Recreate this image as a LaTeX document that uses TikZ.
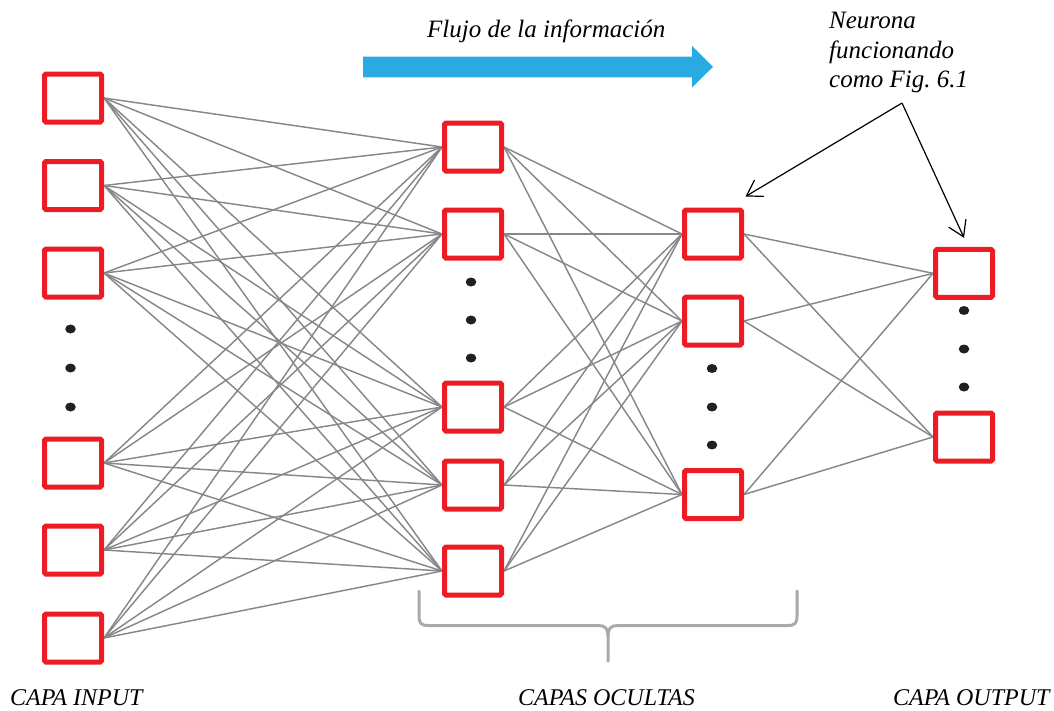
\documentclass[tikz,border=0pt]{standalone}
\usepackage{fontspec}
\setmainfont{Liberation Serif}
\usetikzlibrary{arrows.meta,shapes.geometric}

\pgfdeclarelayer{links}
\pgfsetlayers{links,main}

\definecolor{neuronred}{HTML}{ED1C24}
\definecolor{linkgray}{HTML}{87878A}
\definecolor{flowblue}{HTML}{29ABE2}
\definecolor{bracegray}{HTML}{A7A9AC}
\definecolor{dotblack}{HTML}{231F20}

\frenchspacing

\begin{document}
\begin{tikzpicture}[x=1pt,y=-1pt,
  neuron/.style={draw=neuronred, line width=5pt, fill=white,
    minimum width=57pt, minimum height=48pt, inner sep=0pt,
    rounded corners=1.5pt},
  link/.style={draw=linkgray, line width=1.45pt},
  dotmark/.style={ellipse, fill=dotblack, minimum width=10.5pt,
    minimum height=9pt, inner sep=0pt},
  pointer/.style={draw=black, line width=1.2pt,
    -{Straight Barb[length=15pt,width=19pt,line width=1.2pt]}},
  caption/.style={anchor=base west, inner sep=0pt,
    font=\fontsize{24}{28}\selectfont\itshape},
  note/.style={anchor=base west, inner sep=0pt,
    font=\fontsize{25}{29}\selectfont\itshape}]

\useasboundingbox (0,0) rectangle (1054,710);

% ---- neurons of each layer ----
\foreach \yy [count=\i] in {98,185.5,273,463,550,638}
  \node[neuron] (in\i) at (73,\yy) {};
\foreach \yy [count=\i] in {147,234,407,485,571}
  \node[neuron] (ha\i) at (473,\yy) {};
\foreach \yy [count=\i] in {234,321,494.5}
  \node[neuron] (hb\i) at (713,\yy) {};
\foreach \yy [count=\i] in {273.3,437}
  \node[neuron] (out\i) at (964,\yy) {};

% ---- ellipsis dots ----
\foreach \yy [count=\i] in {329,368,407}
  \node[dotmark] (din\i) at (70.5,\yy) {};
\foreach \yy [count=\i] in {282,320,358}
  \node[dotmark] (dha\i) at (471,\yy) {};
\foreach \yy [count=\i] in {368.5,407,445}
  \node[dotmark] (dhb\i) at (712,\yy) {};
\foreach \yy [count=\i] in {310.5,349,387}
  \node[dotmark] (dout\i) at (964,\yy) {};

% ---- full connections between consecutive layers ----
\begin{pgfonlayer}{links}
  \foreach \i in {1,...,6}
    \foreach \j in {1,...,5}
      \draw[link] (in\i.east) -- (ha\j.west);
  \foreach \i in {1,...,5}
    \foreach \j in {1,...,3}
      \draw[link] (ha\i.east) -- (hb\j.west);
  \foreach \i in {1,...,3}
    \foreach \j in {1,2}
      \draw[link] (hb\i.east) -- (out\j.west);
\end{pgfonlayer}

% ---- information flow arrow ----
\node[note] (flow) at (427,37) {Flujo de la información};
\fill[flowblue] (363,56.5) -- (692,56.5) -- (692,46) -- (713,66.8)
  -- (692,87.5) -- (692,77.3) -- (363,77.3) -- cycle;

% ---- annotation with two pointers ----
\node[note] (neu1) at (829,28) {Neurona};
\node[note] (neu2) at (829,58) {funcionando};
\node[note] (neu3) at (829,87) {como Fig. 6.1};
\coordinate (fork) at (902,103);
\path (hb1.north east) ++(1.5,-11) coordinate (tipA);
\path (out1.north) ++(0,-9) coordinate (tipB);
\draw[pointer] (fork) -- (tipA);
\draw[pointer] (fork) -- (tipB);

% ---- brace under the hidden layers ----
\draw[bracegray, line width=3pt, line cap=round, line join=round]
  (419,591) -- (419,616) .. controls (419,623) and (421,625.5) .. (428,625.5)
  -- (598,625.5) .. controls (605,625.5) and (608,628) .. (608,636)
  -- (608,661);
\draw[bracegray, line width=3pt, line cap=round, line join=round]
  (797,591) -- (797,616) .. controls (797,623) and (795,625.5) .. (788,625.5)
  -- (618,625.5) .. controls (611,625.5) and (608,628) .. (608,636);

% ---- layer captions ----
\node[caption] (capin) at (10,705) {CAPA INPUT};
\node[caption] (caphid) at (518,705) {CAPAS OCULTAS};
\node[caption] (capout) at (893,705) {CAPA OUTPUT};
\end{tikzpicture}
\end{document}
